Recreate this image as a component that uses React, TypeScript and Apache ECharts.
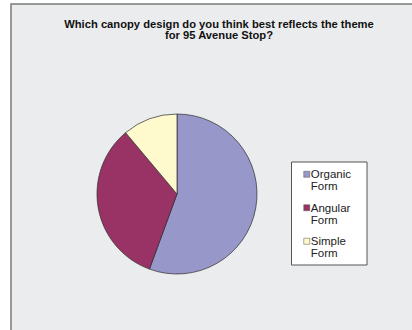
import React, { useEffect, useRef } from "react";
import * as echarts from "echarts";

const titleLines = [
  "Which canopy design do you think best reflects the theme",
  "for 95 Avenue Stop?",
];
const categories = ["Organic Form", "Angular Form", "Simple Form"];
const shares = [55.6, 33.3, 11.1];
const colors = ["#9797CA", "#993366", "#FFFACD"];

export default function App() {
  const ref = useRef<HTMLDivElement>(null);
  useEffect(() => {
    if (!ref.current) return;
    const chart = echarts.init(ref.current, null, { renderer: "svg" });
    chart.setOption({
      animation: false,
      backgroundColor: "#ffffff",
      title: {
        text: titleLines.join("\n"),
        left: 219,
        top: 18,
        padding: 0,
        textAlign: "center",
        textStyle: {
          fontFamily: "Liberation Sans, Arial, sans-serif",
          fontWeight: "bold",
          fontSize: 11.2,
          lineHeight: 11.5,
          color: "#111111",
        },
      },
      graphic: [
        {
          type: "rect",
          z: -10,
          silent: true,
          shape: { x: 11, y: 4, width: 420, height: 340 },
          style: { fill: "#EBECEE", stroke: "#7A7A7A", lineWidth: 1.5 },
        },
      ],
      legend: {
        orient: "vertical",
        left: 291.5,
        top: 162,
        padding: [6, 16, 5.5, 12],
        itemWidth: 6,
        itemHeight: 24,
        itemGap: 9,
        symbolKeepAspect: false,
        icon: "path://M0,0M0,24M0,3L6,3L6,9L0,9Z",
        backgroundColor: "#ffffff",
        borderColor: "#555555",
        borderWidth: 1,
        borderRadius: 0,
        itemStyle: { borderColor: "#555555", borderWidth: 0.5 },
        formatter: (name: string) => name.replace(" ", "\n"),
        textStyle: {
          fontFamily: "Liberation Sans, Arial, sans-serif",
          fontSize: 11.5,
          lineHeight: 12,
          color: "#222222",
          padding: [0, 0, 0, -4],
        },
        data: categories,
      },
      series: [
        {
          type: "pie",
          center: [177, 194],
          radius: 80,
          startAngle: 90,
          clockwise: true,
          label: { show: false },
          labelLine: { show: false },
          emphasis: { disabled: true },
          itemStyle: { borderColor: "#2a2a2a", borderWidth: 0.7 },
          data: categories.map((name, i) => ({
            name,
            value: shares[i],
            itemStyle: { color: colors[i] },
          })),
        },
      ],
    });
    return () => chart.dispose();
  }, []);
  return (
    <div
      ref={ref}
      style={{ position: "fixed", left: 0, top: 0, width: 412, height: 330 }}
    />
  );
}
